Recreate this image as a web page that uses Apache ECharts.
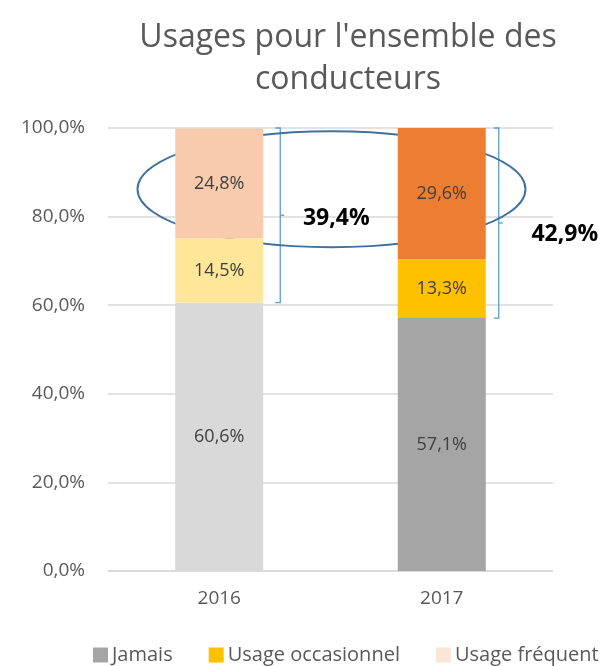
<!DOCTYPE html>
<html>
  <head>
    <meta charset="utf-8">
    <title></title>
    <style>
    html,body{margin:0;padding:0;background:#fff;}
    #chart{width:607px;height:666px;}
    </style>
    <script src="https://cdn.jsdelivr.net/npm/echarts@6/dist/echarts.min.js"></script>
  </head>
  <body>
    <div id="chart"></div>
    <script>
    // data
    const years = ['2016', '2017'];
    const jamais = [60.6, 57.1];
    const occasionnel = [14.5, 13.3];
    const frequent = [24.8, 29.6];
    const yTicks = [0, 20, 40, 60, 80, 100];

    // lighter shades for 2016, full colours for 2017
    const cJamais = ['#d9d9d9', '#a5a5a5'];
    const cOcc = ['#ffe699', '#ffc000'];
    const cFreq = ['#f8cbad', '#ed7d31'];

    const fmt = v => v.toFixed(1).replace('.', ',') + '%';
    const font = '"Open Sans", sans-serif';
    const barW = 88;

    const chart = echarts.init(document.getElementById('chart'));

    function mkSeries(name, vals, cols, legendColor){
      return {
        name: name,
        type: 'bar',
        stack: 'tot',
        barWidth: barW,
        itemStyle: {color: legendColor},
        label: {
          show: true, position: 'inside', color: '#404040',
          fontSize: 18, fontFamily: font,
          formatter: p => fmt(p.value)
        },
        data: vals.map((v, i) => ({value: v, itemStyle: {color: cols[i]}}))
      };
    }

    chart.setOption({
      animation: false,
      title: {
        text: "Usages pour l'ensemble des\nconducteurs",
        left: 343, textAlign: 'center', top: 12,
        textStyle: {fontFamily: font, fontWeight: 'normal', fontSize: 32, color: '#595959', lineHeight: 42}
      },
      legend: {
        top: 640, left: 88, itemWidth: 15, itemHeight: 15, itemGap: 36,
        icon: 'rect',
        textStyle: {fontFamily: font, fontSize: 20, color: '#595959', padding: [0, 0, 0, -1]}
      },
      grid: {left: 108, right: 54, top: 128, bottom: 95},
      xAxis: {
        type: 'category', data: years,
        axisTick: {show: false},
        axisLine: {lineStyle: {color: '#d9d9d9', width: 1.5}},
        axisLabel: {fontFamily: font, fontSize: 19, color: '#595959', margin: 18}
      },
      yAxis: {
        type: 'value', min: 0, max: 100, interval: 20,
        axisLabel: {fontFamily: font, fontSize: 19, color: '#595959', margin: 23,
          formatter: v => yTicks.includes(v) ? fmt(v) : ''},
        splitLine: {lineStyle: {color: '#d9d9d9', width: 1.5}}
      },
      series: [
        mkSeries('Jamais', jamais, cJamais, '#a5a5a5'),
        mkSeries('Usage occasionnel', occasionnel, cOcc, '#ffc000'),
        mkSeries('Usage fréquent', frequent, cFreq, '#fbe5d6')
      ]
    });

    // annotations: brackets with totals, ellipse around the top segments
    const g = [];
    const offs = [61, 57];
    const lblDx = [56, 66];
    const lblDy = [3, 11];
    years.forEach((yr, i) => {
      const top = chart.convertToPixel({gridIndex: 0}, [i, 100]);
      const bot = chart.convertToPixel({gridIndex: 0}, [i, jamais[i]]);
      const x = top[0] + offs[i];
      const mid = (top[1] + bot[1]) / 2;
      g.push({
        type: 'polyline', silent: true,
        shape: {points: [[x - 5, top[1]], [x, top[1]], [x, bot[1]], [x - 5, bot[1]]]},
        style: {stroke: '#5b9bd5', lineWidth: 1.3, fill: null}
      });
      g.push({
        type: 'line', silent: true,
        shape: {x1: x, y1: mid, x2: x + 4, y2: mid},
        style: {stroke: '#5b9bd5', lineWidth: 1.3}
      });
      g.push({
        type: 'text', silent: true,
        x: x + lblDx[i], y: mid + lblDy[i],
        style: {text: fmt(100 - jamais[i]), fontFamily: font, fontSize: 23, fontWeight: 'bold',
          fill: '#000', align: 'center', verticalAlign: 'middle'}
      });
    });
    const p0 = chart.convertToPixel({gridIndex: 0}, [0, 86.2]);
    const p1 = chart.convertToPixel({gridIndex: 0}, [1, 86.2]);
    g.push({
      type: 'ellipse', silent: true,
      shape: {cx: (p0[0] + p1[0]) / 2 + 1, cy: p0[1], rx: 194, ry: 58},
      style: {stroke: '#41719c', lineWidth: 2, fill: null}
    });
    chart.setOption({graphic: g});
    </script>
  </body>
</html>
